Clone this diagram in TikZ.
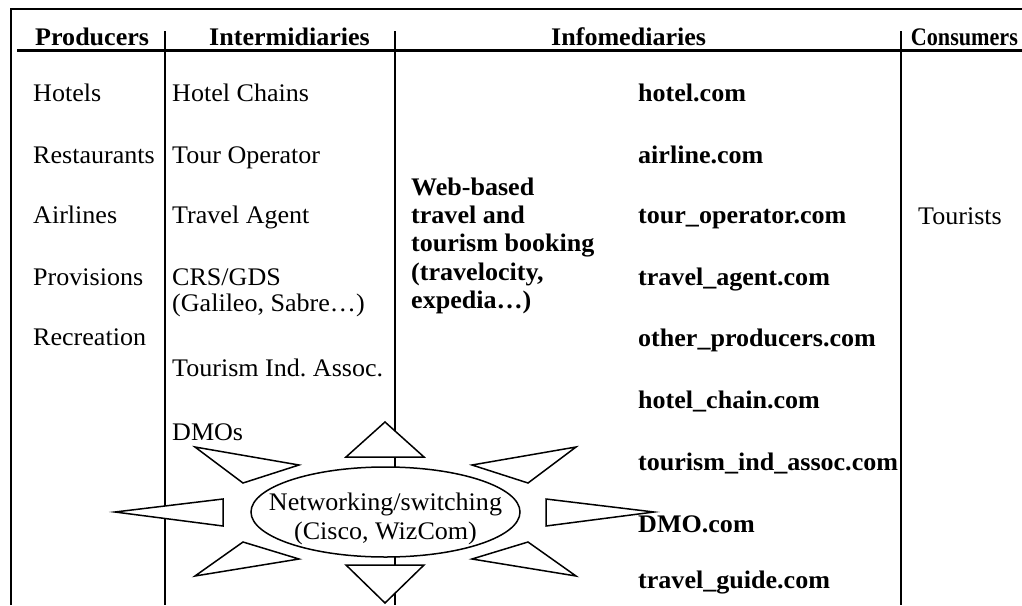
\documentclass[tikz,border=0pt]{standalone}
\usepackage{fontspec}
\setmainfont{Liberation Serif}[FakeStretch=1.03]
\usetikzlibrary{shapes.geometric}
\frenchspacing
\tikzset{
  txt/.style={anchor=base west, inner sep=0pt, font=\fontsize{25.3}{28}\selectfont},
  btxt/.style={anchor=base west, inner sep=0pt, font=\fontsize{25.3}{28}\selectfont\bfseries},
  ctxt/.style={anchor=base, inner sep=0pt, font=\fontsize{25.3}{28}\selectfont},
  rule/.style={line width=1.5pt},
  frame/.style={line width=2pt},
  headrule/.style={line width=3pt},
  ray/.style={draw, fill=white, line width=1.5pt, line join=miter},
}
\begin{document}
\begin{tikzpicture}[x=1pt,y=-1pt]
\useasboundingbox (0,0) rectangle (1022,605);
% frame and table rules
\draw[frame] (11,605) -- (11,9) -- (1022,9);
\draw[headrule] (17,50) -- (1022,50);
\draw[rule] (165,31) -- (165,605);
\draw[rule] (395,31) -- (395,605);
\draw[rule] (901,31) -- (901,605);
% headers
\node[btxt] (hprod) at (35,45) {Producers};
\node[btxt] (hint) at (209,45) {Intermidiaries};
\node[btxt] (hinfo) at (551,45) {Infomediaries};
\node[btxt, xscale=0.85] (hcons) at (910.7,45) {Consumers};
% producers
\node[txt] (p1) at (33,101) {Hotels};
\node[txt] (p2) at (33,163) {Restaurants};
\node[txt] (p3) at (33,223) {Airlines};
\node[txt] (p4) at (33,285) {Provisions};
\node[txt] (p5) at (33,345) {Recreation};
% intermediaries
\node[txt] (i1) at (172,101) {Hotel Chains};
\node[txt] (i2) at (172,163) {Tour Operator};
\node[txt] (i3) at (172,223) {Travel Agent};
\node[txt] (i4) at (172,285) {CRS/GDS};
\node[txt] (i4b) at (172,311) {(Galileo, Sabre…)};
\node[txt] (i5) at (172,376) {Tourism Ind. Assoc.};
\node[txt] (i6) at (172,440) {DMOs};
% web-based block
\node[btxt] (w1) at (411,195) {Web-based};
\node[btxt] (w2) at (411,223) {travel and};
\node[btxt] (w3) at (411,251) {tourism booking};
\node[btxt] (w4) at (411,280) {(travelocity,};
\node[btxt] (w5) at (411,308) {expedia…)};
% networking sun
\node[draw, ellipse, fill=white, line width=1.5pt, inner sep=0pt,
      minimum width=269pt, minimum height=90pt] (sun) at (385.5,512) {};
\draw[ray] (385,422) -- (346,457) -- (424,457) -- cycle;
\draw[ray] (346,565) -- (424,565) -- (385,603) -- cycle;
\draw[ray] (115,512) -- (223,499) -- (223,526) -- cycle;
\draw[ray] (654,512) -- (546,499) -- (546,526) -- cycle;
\draw[ray] (195,447) -- (299,465) -- (243,483) -- cycle;
\draw[ray] (576,447) -- (472,465) -- (528,483) -- cycle;
\draw[ray] (243,542) -- (299,559) -- (195,576) -- cycle;
\draw[ray] (528,542) -- (472,559) -- (576,576) -- cycle;
\node[ctxt] (s1) at (385.5,510) {Networking/switching};
\node[ctxt] (s2) at (385.5,539) {(Cisco, WizCom)};
% infomediary sites
\node[btxt] (c1) at (638,101) {hotel.com};
\node[btxt] (c2) at (638,163) {airline.com};
\node[btxt] (c3) at (638,223) {tour\_operator.com};
\node[btxt] (c4) at (638,285) {travel\_agent.com};
\node[btxt] (c5) at (638,346) {other\_producers.com};
\node[btxt] (c6) at (638,408) {hotel\_chain.com};
\node[btxt] (c7) at (638,470) {tourism\_ind\_assoc.com};
\node[btxt] (c8) at (638,532) {DMO.com};
\node[btxt] (c9) at (638,588) {travel\_guide.com};
% consumers
\node[txt] (t1) at (918,224) {Tourists};
\end{tikzpicture}
\end{document}
